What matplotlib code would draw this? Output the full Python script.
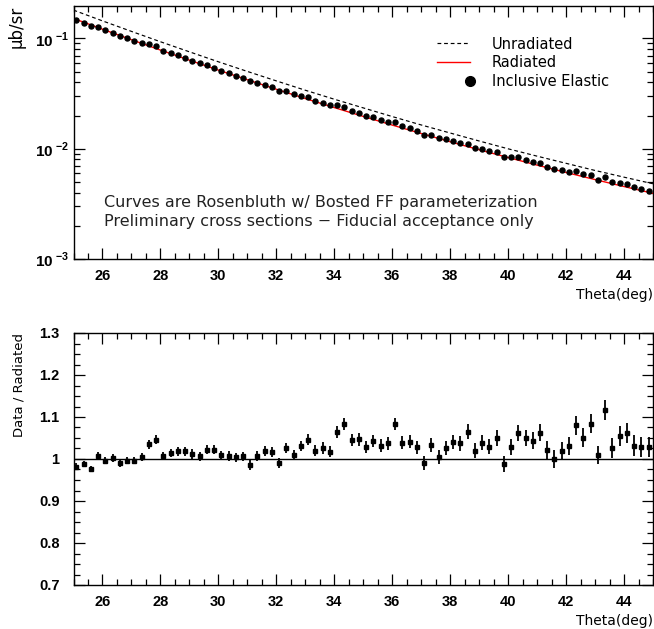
import numpy as np
import matplotlib
matplotlib.use("Agg")
import matplotlib.pyplot as plt
from matplotlib.ticker import MultipleLocator, LogLocator, FuncFormatter, NullFormatter
from matplotlib.lines import Line2D
from matplotlib.font_manager import FontProperties

# ---------------- data ----------------
theta_curve = [25, 26, 27, 28, 29, 30, 31, 32, 33, 34, 35,
               36, 37, 38, 39, 40, 41, 42, 43, 44, 45]
radiated = [0.1517, 0.1212, 0.0973, 0.0784, 0.0635, 0.0516, 0.0422, 0.0346,
            0.0285, 0.02360, 0.01962, 0.01638, 0.01374, 0.01157, 0.00979,
            0.00832, 0.00710, 0.00609, 0.00525, 0.00454, 0.00394]
unradiated = [0.1805, 0.1442, 0.1158, 0.0933, 0.0756, 0.0614, 0.0502, 0.0412,
              0.0339, 0.0281, 0.02345, 0.01957, 0.01642, 0.01388, 0.01175,
              0.00998, 0.00856, 0.00737, 0.00635, 0.00552, 0.00481]

theta_data = [25.10, 25.35, 25.60, 25.85, 26.10, 26.35, 26.60, 26.85, 27.10, 27.35,
              27.60, 27.85, 28.10, 28.35, 28.60, 28.85, 29.10, 29.35, 29.60, 29.85,
              30.10, 30.35, 30.60, 30.85, 31.10, 31.35, 31.60, 31.85, 32.10, 32.35,
              32.60, 32.85, 33.10, 33.35, 33.60, 33.85, 34.10, 34.35, 34.60, 34.85,
              35.10, 35.35, 35.60, 35.85, 36.10, 36.35, 36.60, 36.85, 37.10, 37.35,
              37.60, 37.85, 38.10, 38.35, 38.60, 38.85, 39.10, 39.35, 39.60, 39.85,
              40.10, 40.35, 40.60, 40.85, 41.10, 41.35, 41.60, 41.85, 42.10, 42.35,
              42.60, 42.85, 43.10, 43.35, 43.60, 43.85, 44.10, 44.35, 44.60, 44.85]

xsec = [0.1456, 0.1385, 0.1293, 0.1262, 0.1180, 0.1124, 0.1052, 0.1001, 0.0948, 0.0907,
        0.0885, 0.0847, 0.0773, 0.0739, 0.0703, 0.0667, 0.0629, 0.0594, 0.0572, 0.0544,
        0.0511, 0.0484, 0.0459, 0.0438, 0.0407, 0.0396, 0.0381, 0.0362, 0.0336, 0.0332,
        0.0311, 0.0302, 0.0293, 0.0272, 0.0261, 0.0247, 0.0247, 0.0239, 0.0220, 0.0211,
        0.01981, 0.01920, 0.01816, 0.01745, 0.01743, 0.01600, 0.01533, 0.01449, 0.01339, 0.01336,
        0.01244, 0.01218, 0.01185, 0.01131, 0.01114, 0.01024, 0.01001, 0.00952, 0.00932, 0.00843,
        0.00842, 0.00836, 0.00795, 0.00759, 0.00744, 0.00688, 0.00648, 0.00635, 0.00619, 0.00624,
        0.00585, 0.00582, 0.00522, 0.00556, 0.00494, 0.00490, 0.00475, 0.00445, 0.00429, 0.00414]

ratio = [0.982, 0.988, 0.976, 1.007, 0.996, 1.002, 0.991, 0.996, 0.996, 1.005,
         1.035, 1.046, 1.007, 1.015, 1.018, 1.018, 1.012, 1.006, 1.022, 1.022,
         1.009, 1.007, 1.004, 1.006, 0.986, 1.007, 1.020, 1.017, 0.991, 1.027,
         1.009, 1.031, 1.046, 1.020, 1.027, 1.017, 1.065, 1.083, 1.045, 1.047,
         1.028, 1.043, 1.032, 1.037, 1.083, 1.039, 1.041, 1.028, 0.991, 1.033,
         1.004, 1.026, 1.041, 1.037, 1.065, 1.020, 1.039, 1.029, 1.050, 0.988,
         1.028, 1.062, 1.050, 1.044, 1.063, 1.022, 1.000, 1.020, 1.031, 1.080,
         1.051, 1.084, 1.009, 1.117, 1.026, 1.055, 1.062, 1.031, 1.029, 1.029]

ratio_err = [0.008, 0.008, 0.008, 0.009, 0.009, 0.009, 0.009, 0.009, 0.009, 0.009,
             0.010, 0.010, 0.010, 0.010, 0.010, 0.010, 0.011, 0.010, 0.011, 0.011,
             0.010, 0.011, 0.011, 0.011, 0.011, 0.011, 0.012, 0.012, 0.012, 0.012,
             0.012, 0.013, 0.013, 0.013, 0.014, 0.013, 0.014, 0.014, 0.015, 0.015,
             0.014, 0.015, 0.015, 0.016, 0.015, 0.015, 0.015, 0.016, 0.016, 0.017,
             0.017, 0.017, 0.017, 0.017, 0.018, 0.018, 0.018, 0.018, 0.018, 0.019,
             0.019, 0.020, 0.020, 0.020, 0.020, 0.021, 0.021, 0.020, 0.021, 0.022,
             0.023, 0.022, 0.022, 0.024, 0.023, 0.024, 0.024, 0.025, 0.024, 0.024]

legend_labels = ["Unradiated", "Radiated", "Inclusive Elastic"]
note_lines = ["Curves are Rosenbluth w/ Bosted FF parameterization",
              "Preliminary cross sections \u2212 Fiducial acceptance only"]

# ---------------- style ----------------
plt.rcParams["font.family"] = ["DejaVu Sans"]
plt.rcParams["mathtext.fontset"] = "custom"
plt.rcParams["mathtext.bf"] = "Liberation Sans:bold"
plt.rcParams["mathtext.rm"] = "Liberation Sans:bold"

TICKFONT = dict(family="Liberation Sans", weight="bold", size=10.5)
TEXTSIZE = 10.5

fig = plt.figure(figsize=(6.54, 6.29), dpi=100)
W, H = 654.0, 629.0
L, R = 73.5, 653.0
ax1 = fig.add_axes([L / W, 1 - 259 / H, (R - L) / W, (259 - 5.7) / H])
ax2 = fig.add_axes([L / W, 1 - 585 / H, (R - L) / W, (585 - 333) / H])


def style_axes(ax):
    for s in ax.spines.values():
        s.set_linewidth(1.0)
    ax.tick_params(which="both", direction="in", top=True, right=True,
                   bottom=True, left=True, width=0.9)
    ax.tick_params(which="major", length=8)
    ax.tick_params(which="minor", length=4.3)
    ax.tick_params(axis="x", which="major", pad=7)
    ax.xaxis.set_major_locator(MultipleLocator(2))
    ax.xaxis.set_minor_locator(MultipleLocator(0.5))
    ax.set_xlim(25, 45)


def xfmt(v, pos):
    if abs(v - 25) < 1e-6 or abs(v - 45) < 1e-6:
        return ""
    return "%d" % v


class DotAtRightHandler:
    """Legend handler that draws the marker at the right end of the handle box."""
    def legend_artist(self, legend, orig_handle, fontsize, handlebox):
        x0, y0 = handlebox.xdescent, handlebox.ydescent
        w, h = handlebox.width, handlebox.height
        dot = Line2D([w - x0], [h / 2 - y0], marker="o", ls="none",
                     color=orig_handle.get_color(), ms=orig_handle.get_markersize(),
                     transform=handlebox.get_transform())
        handlebox.add_artist(dot)
        return dot


# ---------------- top panel ----------------
ax1.set_yscale("log")
ax1.set_ylim(1e-3, 0.198)
ax1.plot(theta_curve, unradiated, color="black", lw=0.85, ls=(0, (3.2, 2.4)))
ax1.plot(theta_curve, radiated, color="#ff0000", lw=1.0)
ax1.plot(theta_data, xsec, "o", color="black", ms=3.6, mec="black")
style_axes(ax1)
ax1.yaxis.set_major_locator(LogLocator(base=10, numticks=10))
ax1.yaxis.set_minor_locator(LogLocator(base=10, subs=np.arange(2, 10), numticks=20))
ax1.yaxis.set_minor_formatter(NullFormatter())
ax1.yaxis.set_major_formatter(FuncFormatter(
    lambda v, p: r"$\mathbf{10}^{\ \mathbf{%d}}$" % int(round(np.log10(v)))))
ax1.tick_params(axis="y", which="major", pad=3, labelsize=11)
ax1.xaxis.set_major_formatter(FuncFormatter(xfmt))
for lab in ax1.get_xticklabels():
    lab.set_fontproperties(FontProperties(**TICKFONT))
ax1.set_xlabel("Theta(deg)", loc="right", fontsize=10, labelpad=4)
ax1.set_ylabel("\u03bcb/sr", loc="top", fontsize=12)
ax1.yaxis.set_label_coords(-0.083, 1.0)

handles = [Line2D([], [], color="black", lw=0.85, ls=(0, (3.2, 2.4))),
           Line2D([], [], color="#ff0000", lw=1.0),
           Line2D([], [], color="black", marker="o", ls="none", ms=7)]
ax1.legend(handles, legend_labels, loc="upper left", bbox_to_anchor=(0.627, 0.878),
           frameon=False, fontsize=TEXTSIZE, handlelength=2.3, handletextpad=1.45,
           borderpad=0, borderaxespad=0, labelspacing=0.25, numpoints=1,
           handler_map={handles[2]: DotAtRightHandler()})

ax1.text(0.0526, 0.2225, note_lines[0], transform=ax1.transAxes,
         fontsize=11.5, va="center", ha="left", color="#222222")
ax1.text(0.0526, 0.147, note_lines[1], transform=ax1.transAxes,
         fontsize=11.5, va="center", ha="left", color="#222222")

# ---------------- bottom panel ----------------
ax2.set_ylim(0.7, 1.3)
ax2.axhline(1.0, color="black", lw=1.0)
ax2.errorbar(theta_data, ratio, yerr=ratio_err, fmt="s", color="black",
             ms=3.2, elinewidth=1.3, capsize=0)
style_axes(ax2)
ax2.yaxis.set_major_locator(MultipleLocator(0.1))
ax2.yaxis.set_minor_locator(MultipleLocator(0.025))
ax2.yaxis.set_major_formatter(FuncFormatter(lambda v, p: ("%.1f" % v) if abs(v - 1) > 1e-6 else "1"))
ax2.xaxis.set_major_formatter(FuncFormatter(xfmt))
ax2.tick_params(axis="y", which="major", pad=10)
for lab in ax2.get_xticklabels() + ax2.get_yticklabels():
    lab.set_fontproperties(FontProperties(**TICKFONT))
ax2.set_xlabel("Theta(deg)", loc="right", fontsize=10, labelpad=4)
ax2.set_ylabel("Data / Radiated", loc="top", fontsize=9.5)
ax2.yaxis.set_label_coords(-0.083, 1.0)

fig.savefig("out.png", dpi=100)
